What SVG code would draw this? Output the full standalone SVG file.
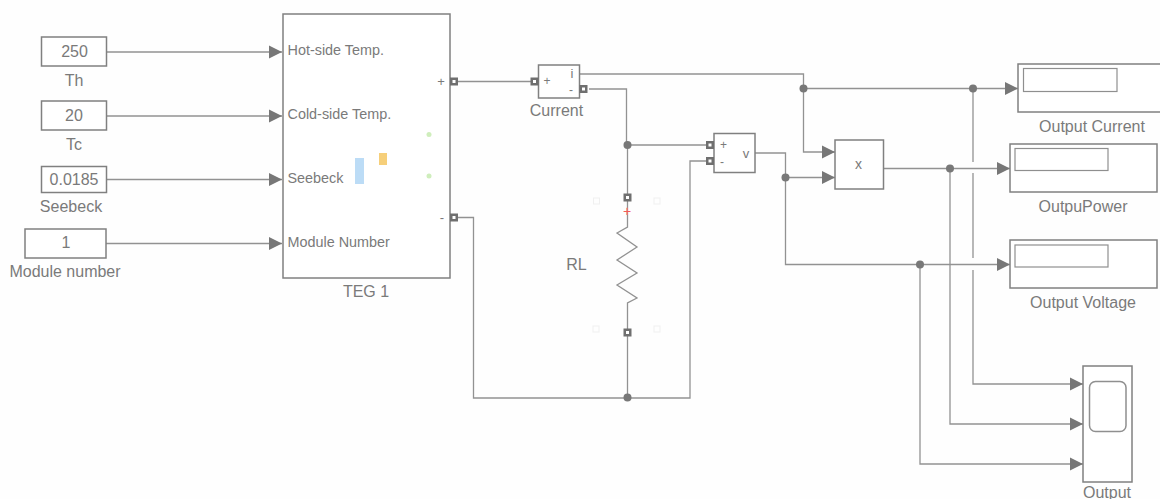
<svg xmlns="http://www.w3.org/2000/svg" width="1160" height="499" viewBox="0 0 1160 499">
<style>
.b{fill:#fff;stroke:#808080;stroke-width:1.5}
.i{fill:#fff;stroke:#8f8f8f;stroke-width:1.2}
.w{fill:none;stroke:#929292;stroke-width:1.3}
.t{font-family:"Liberation Sans",Arial,sans-serif;font-size:16px;fill:#7a7a7a;text-anchor:middle}
.s{font-size:14.4px;text-anchor:start}
.p{fill:#6f6f6f;stroke:none}
.h{fill:#fff}
.j{fill:#787878}
.f{fill:none;stroke:#f0f0f0;stroke-width:1}
</style>
<defs>
<marker id="a" markerUnits="userSpaceOnUse" markerWidth="14" markerHeight="14" refX="13" refY="7" orient="auto"><path d="M0,0.500L13,7L0,13.500Z" fill="#777"/></marker>
<g id="port"><rect class="p" x="-4" y="-4" width="8" height="8"/><rect class="h" x="-1.500" y="-1.500" width="3" height="3"/></g>
</defs>
<rect width="1160" height="499" fill="#fefefe"/>
<g id="connectors">
<path class="w" marker-end="url(#a)" d="M106,52H282"/>
<path class="w" marker-end="url(#a)" d="M106,116H282"/>
<path class="w" marker-end="url(#a)" d="M106,179.500H282"/>
<path class="w" marker-end="url(#a)" d="M106,243.500H282"/>
<path class="w" d="M458,81.500H531"/>
<path class="w" d="M458,217.500H473.500V398H690V161H706"/>
<path class="w" d="M589,89H626.500V145H706"/>
<path class="w" d="M627.500,145V194"/>
<path class="w" d="M627.500,201V227L617,233L637,247L617,260L637,273L617,285L637,298L627.500,303V329"/>
<path class="w" d="M627.500,336V398"/>
<path class="w" marker-end="url(#a)" d="M580,74H803.500V152H835"/>
<path class="w" marker-end="url(#a)" d="M803.500,88.500H1018"/>
<path class="w" marker-end="url(#a)" d="M755,153H785.500V264.500H1010"/>
<path class="w" marker-end="url(#a)" d="M785.500,177.500H835"/>
<path class="w" marker-end="url(#a)" d="M883.500,168.500H1010"/>
<path class="w" marker-end="url(#a)" d="M973,88.500V162M973,173V258M973,270V384H1083"/>
<path class="w" marker-end="url(#a)" d="M950,168.500V424H1083"/>
<path class="w" marker-end="url(#a)" d="M920,264.500V464H1083"/>
<circle class="j" cx="627.500" cy="145" r="4"/>
<circle class="j" cx="627.500" cy="397.500" r="4"/>
<circle class="j" cx="803.500" cy="88.500" r="4"/>
<circle class="j" cx="785.500" cy="177.500" r="4"/>
<circle class="j" cx="973" cy="88.500" r="4"/>
<circle class="j" cx="950" cy="168.500" r="4"/>
<circle class="j" cx="920" cy="264.500" r="4"/>
</g>
<g id="th"><rect class="b" x="41.500" y="37" width="65" height="29"/><text class="t" x="74.500" y="57">250</text><text class="t" x="74" y="86">Th</text></g>
<g id="tc"><rect class="b" x="41.500" y="101" width="65" height="29"/><text class="t" x="74" y="120.500">20</text><text class="t" x="74" y="150">Tc</text></g>
<g id="seebeck"><rect class="b" x="41.500" y="166.500" width="65" height="26"/><text class="t" x="74" y="184.500">0.0185</text><text class="t" x="71" y="212">Seebeck</text></g>
<g id="module"><rect class="b" x="25" y="229" width="81" height="29"/><text class="t" x="66" y="248">1</text><text class="t" x="65" y="277">Module number</text></g>
<g id="teg"><rect class="b" x="283" y="14" width="167" height="264"/>
<text class="t s" x="287.500" y="55">Hot-side Temp.</text><text class="t s" x="287.500" y="119">Cold-side Temp.</text><text class="t s" x="287.500" y="183">Seebeck</text><text class="t s" x="287.500" y="247">Module Number</text>
<text class="t" x="441" y="86" style="font-size:13px">+</text><text class="t" x="442" y="222" style="font-size:13px">-</text>
<rect x="355" y="158" width="9" height="26" fill="#bcdcf6"/><rect x="379" y="153" width="8" height="12" fill="#f6cf7a"/><circle cx="429" cy="134.500" r="2.500" fill="#cfeebc"/><circle cx="429" cy="176" r="2.500" fill="#cfeebc"/>
<use href="#port" x="454" y="81.500"/><use href="#port" x="454" y="217.500"/>
<text class="t" x="366" y="297">TEG 1</text></g>
<g id="current"><rect class="b" x="538.500" y="65" width="41" height="33"/><use href="#port" x="534.500" y="81.500"/><use href="#port" x="583.500" y="89"/>
<text class="t" x="547" y="85" style="font-size:12px">+</text><text class="t" x="572" y="78" style="font-size:13px">i</text><text class="t" x="571" y="94" style="font-size:12px">-</text><text class="t" x="556.500" y="116">Current</text></g>
<g id="voltage"><rect class="b" x="714" y="133.500" width="41" height="39"/><use href="#port" x="710" y="145"/><use href="#port" x="710" y="161"/>
<text class="t" x="723.500" y="149" style="font-size:12px">+</text><text class="t" x="722" y="166" style="font-size:12px">-</text><text class="t" x="746" y="158" style="font-size:13px">v</text></g>
<g id="rl"><use href="#port" x="627.500" y="197.500"/><use href="#port" x="627.500" y="332.500"/>
<text class="t" x="627" y="215.500" style="font-size:14px;fill:#f25a5a">+</text><text class="t" x="576.500" y="270">RL</text>
<rect class="f" x="593.500" y="198" width="6" height="6"/><rect class="f" x="654" y="198" width="6" height="6"/><rect class="f" x="593" y="326" width="6" height="6"/><rect class="f" x="654" y="326" width="6" height="6"/></g>
<g id="product"><rect class="b" x="835" y="140" width="48.500" height="49"/><text class="t" x="858.500" y="169" style="font-size:14px">x</text></g>
<g id="out-current"><rect class="b" x="1018" y="64" width="143" height="48"/><rect class="i" x="1023.500" y="68.500" width="93.500" height="23"/><text class="t" x="1092" y="132">Output Current</text></g>
<g id="out-power"><rect class="b" x="1010" y="144" width="147" height="48"/><rect class="i" x="1015" y="148.500" width="93" height="22"/><text class="t" x="1083" y="211.500">OutpuPower</text></g>
<g id="out-voltage"><rect class="b" x="1010" y="240" width="147" height="48"/><rect class="i" x="1015" y="245" width="93" height="22"/><text class="t" x="1083" y="307.500">Output Voltage</text></g>
<g id="scope"><rect class="b" x="1083" y="366" width="49" height="116"/><rect class="i" x="1089.500" y="381.500" width="36.500" height="50" rx="6" style="stroke-width:1.5"/><text class="t" x="1107" y="498">Output</text></g>
</svg>
